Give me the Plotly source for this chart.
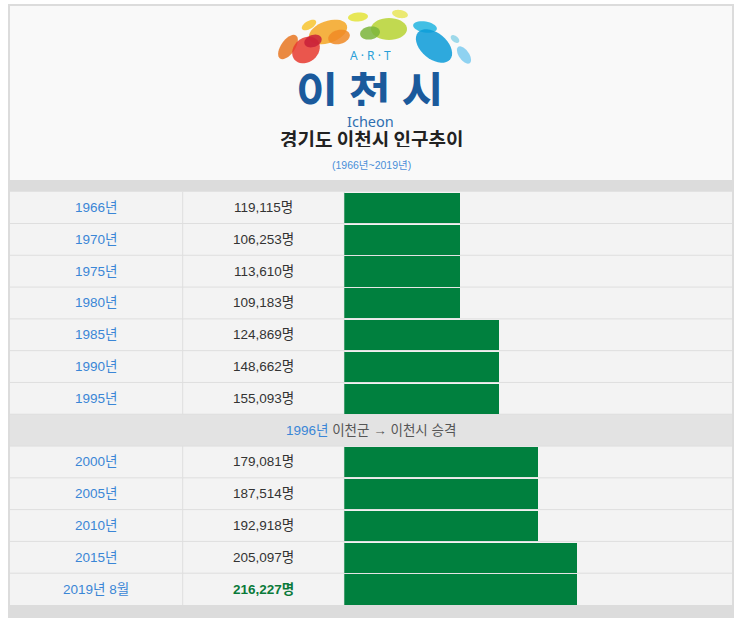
import math
import plotly.graph_objects as go

W, H = 743, 622

# ---------------- data ----------------
years = ["1966년", "1970년", "1975년", "1980년", "1985년", "1990년", "1995년",
         None,
         "2000년", "2005년", "2010년", "2015년", "2019년 8월"]
population = ["119,115명", "106,253명", "113,610명", "109,183명", "124,869명",
              "148,662명", "155,093명", None, "179,081명", "187,514명",
              "192,918명", "205,097명", "216,227명"]
# bar lengths (in scale units of 40,000 people, as drawn)
bar_units = [3, 3, 3, 3, 4, 4, 4, None, 5, 5, 5, 6, 6]
separator_year = "1996년"
separator_text = " 이천군 → 이천시 승격"
title = "경기도 이천시 인구추이"
subtitle = "(1966년~2019년)"

# ---------------- geometry helpers ----------------
def px(x):
    return x / W

def py(y):
    return 1 - y / H

FONT = "Liberation Sans, Arial, Noto Sans CJK KR, sans-serif"
KFONT = "Noto Sans CJK KR, sans-serif"
BLUE = "#3a86d6"
GREEN = "#00803e"
BORDER = "#dedede"

row_top, row_bot = 191.7, 605.0
n_rows = len(years)
row_h = (row_bot - row_top) / n_rows
col1, col2, right = 182.7, 344.3, 732.0

shapes = []

def rect(x0, y0, x1, y1, color):
    shapes.append(dict(type="rect", xref="paper", yref="paper",
                       x0=px(x0), x1=px(x1), y0=py(y1), y1=py(y0),
                       fillcolor=color, line=dict(width=0), layer="below"))

# frame + backgrounds
rect(8, 4, 734, 618, "#dcdcdc")
rect(10, 6, 732, 180, "#f9f9f9")
rect(10, row_top, right, row_bot, "#f3f3f3")
sep_idx = years.index(None)
rect(10, row_top + sep_idx * row_h, right, row_top + (sep_idx + 1) * row_h, "#e3e3e3")

# row borders
for i in range(1, n_rows):
    y = row_top + i * row_h
    shapes.append(dict(type="line", xref="paper", yref="paper", x0=px(10), x1=px(right),
                       y0=py(y), y1=py(y), line=dict(color=BORDER, width=1), layer="below"))
# column borders (not across separator row)
for i in range(n_rows):
    if years[i] is None:
        continue
    y0 = row_top + i * row_h
    for x in (col1, col2):
        shapes.append(dict(type="line", xref="paper", yref="paper", x0=px(x), x1=px(x),
                           y0=py(y0), y1=py(y0 + row_h),
                           line=dict(color=BORDER, width=1), layer="below"))

# logo ellipses: center x, center y, radius a, radius b, angle (deg, screen), colour
logo = [
    (309, 25, 8, 4, -30, "#f8c630"),
    (328, 32, 20, 11, -20, "#f5a623"),
    (358, 17, 10, 4.5, -5, "#e4e43a"),
    (400, 14, 8, 4, 10, "#e9e65a"),
    (389, 29, 18, 11, 0, "#b7d433"),
    (370, 33, 10, 6.5, -10, "#7bb53b"),
    (339, 37, 11, 7, -15, "#f08a24"),
    (288, 47, 14, 7, -55, "#e87722"),
    (306, 50, 15, 12, -40, "#e8392f"),
    (313, 41, 9, 6, -20, "#c8203a"),
    (425, 27, 12, 5.5, 10, "#22b5e0"),
    (434, 46, 21, 13, 40, "#0a9bd8"),
    (455, 39, 5, 3, 40, "#8ed3e8"),
    (464, 55, 10, 5, 55, "#7ccbf0"),
]
for cx, cy, a, b, ang, c in logo:
    r = math.radians(ang)
    pts = []
    for k in range(36):
        t = 2 * math.pi * k / 36
        x = cx + a * math.cos(t) * math.cos(r) - b * math.sin(t) * math.sin(r)
        y = cy + a * math.cos(t) * math.sin(r) + b * math.sin(t) * math.cos(r)
        pts.append(f"{px(x):.5f},{py(y):.5f}")
    path = "M" + " L".join(pts) + " Z"
    shapes.append(dict(type="path", xref="paper", yref="paper", path=path,
                       fillcolor=c, opacity=0.85, line=dict(width=0), layer="above"))

annotations = []

def ptext(x, y, text, size, color, family=FONT, bold=False, h=None):
    d = dict(xref="paper", yref="paper", x=px(x), y=py(y),
             text=f"<b>{text}</b>" if bold else text, showarrow=False,
             xanchor="center", yanchor="middle",
             font=dict(size=size, color=color, family=family))
    if h is not None:
        d["height"] = h
    annotations.append(d)

ptext(370, 55, "A · R · T", 12, "#2a9fd8", family="Noto Sans, sans-serif", h=12)
ptext(370, 89, "이 천 시", 46, "#1b5a9c", family=KFONT, bold=True, h=34)
ptext(370, 121, "Icheon", 14.5, "#2f6fb0", family="Noto Sans, sans-serif", h=12)
ptext(371, 138, title, 19, "#222222", family=KFONT, bold=True, h=18)
ptext(371, 165, subtitle, 10.5, "#4a8fd8", family=FONT)

# bar trace on its own axes (column 3)
rows = list(range(n_rows))
bx = [u for u in bar_units if u is not None]
by = [r for r, u in zip(rows, bar_units) if u is not None]

fig = go.Figure()
fig.add_trace(go.Bar(x=bx, y=by, orientation="h", base=0, width=0.95,
                     marker=dict(color=GREEN, line=dict(width=0)),
                     xaxis="x2", yaxis="y2", hoverinfo="skip", showlegend=False))

# text cells positioned on the row axis
for r in rows:
    if years[r] is None:
        annotations.append(dict(xref="paper", yref="y2", x=px(371), y=r,
                                text=f"<span style='color:{BLUE}'>{separator_year}</span>"
                                     f"<span style='color:#555555'>{separator_text}</span>",
                                showarrow=False, xanchor="center", yanchor="middle",
                                font=dict(size=13.5, family=FONT, color="#555555")))
        continue
    last = r == n_rows - 1
    annotations.append(dict(xref="paper", yref="y2", x=px((10 + col1) / 2), y=r,
                            text=years[r], showarrow=False, xanchor="center", yanchor="middle",
                            font=dict(size=13.5, family=FONT, color=BLUE)))
    annotations.append(dict(xref="paper", yref="y2", x=px((col1 + col2) / 2), y=r,
                            text=f"<b>{population[r]}</b>" if last else population[r],
                            showarrow=False, xanchor="center", yanchor="middle",
                            font=dict(size=13.5, family=FONT,
                                      color="#0a7a3a" if last else "#333333")))

fig.update_layout(
    width=W, height=H,
    margin=dict(l=0, r=0, t=0, b=0),
    paper_bgcolor="white", plot_bgcolor="rgba(0,0,0,0)",
    xaxis=dict(visible=False), yaxis=dict(visible=False),
    xaxis2=dict(domain=[px(col2), px(right)], range=[0, 10], visible=False,
                anchor="y2", fixedrange=True),
    yaxis2=dict(domain=[py(row_bot), py(row_top)], range=[n_rows - 0.5, -0.5],
                visible=False, anchor="x2", fixedrange=True),
    shapes=shapes, annotations=annotations,
    bargap=0, showlegend=False,
)

fig.write_html("out.html")
